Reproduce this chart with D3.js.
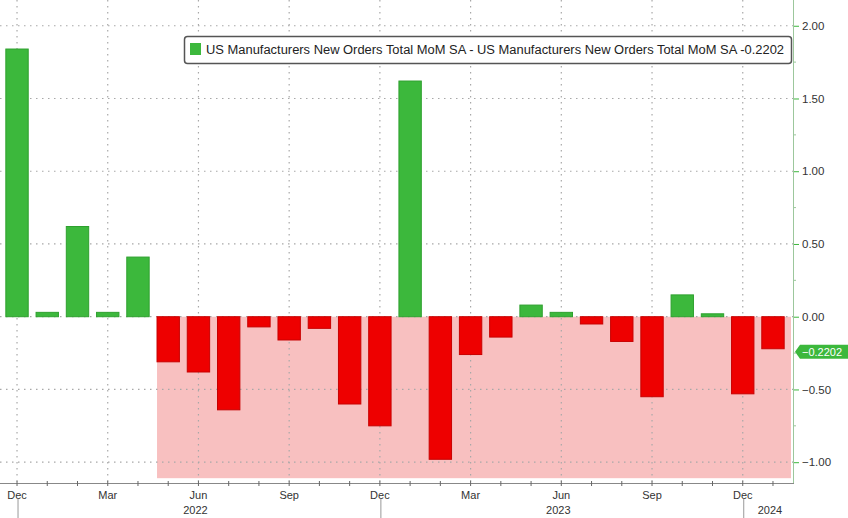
<!DOCTYPE html>
<html><head><meta charset="utf-8">
<script src="https://cdn.jsdelivr.net/npm/d3@7"></script>
<style>body{margin:0;background:#fff}svg{display:block}</style>
</head><body>
<script>
const months = ["2021-12","2022-01","2022-02","2022-03","2022-04","2022-05","2022-06","2022-07","2022-08","2022-09","2022-10","2022-11","2022-12","2023-01","2023-02","2023-03","2023-04","2023-05","2023-06","2023-07","2023-08","2023-09","2023-10","2023-11","2023-12","2024-01"];
const values = [1.84,0.03,0.62,0.03,0.41,-0.31,-0.38,-0.64,-0.07,-0.16,-0.08,-0.60,-0.75,1.62,-0.98,-0.26,-0.14,0.08,0.03,-0.05,-0.17,-0.55,0.15,0.02,-0.53,-0.2202];
const yTicks = [2.0,1.5,1.0,0.5,0.0,-0.5,-1.0];
const monthTicks = [["2021-12","Dec"],["2022-03","Mar"],["2022-06","Jun"],["2022-09","Sep"],["2022-12","Dec"],["2023-03","Mar"],["2023-06","Jun"],["2023-09","Sep"],["2023-12","Dec"]];
const yearLabels = [["2022-06","2022"],["2023-06","2023"],["2024-01","2024"]];
const yearSeparators = ["2021-12","2022-12","2023-12"];
const shadeStart = "2022-05";
const shadeBottom = -1.11;
const lastValue = -0.2202;
const legendText = "US Manufacturers New Orders Total MoM SA - US Manufacturers New Orders Total MoM SA -0.2202";

const W=848,H=518, plotL=0, plotR=793, plotT=0, plotB=483;
const svg=d3.select("body").append("svg").attr("width",W).attr("height",H);
const x=d3.scalePoint().domain(months).range([1.9,788.1]).padding(0.5);
const step=x.step();
const bw=step*0.74;
const y=d3.scaleLinear().domain([-1.143,2.177]).range([plotB,plotT]);
const font="'Liberation Sans', Arial, sans-serif";

// pink shade
svg.append("rect").attr("x",x(shadeStart)-bw/2).attr("y",y(0))
  .attr("width",plotR-2-(x(shadeStart)-bw/2)).attr("height",y(shadeBottom)-y(0))
  .attr("fill","#f8c0c0");

// grid
const g=svg.append("g");
g.selectAll(".hg").data(yTicks).join("line")
  .attr("x1",plotL).attr("x2",plotR).attr("y1",d=>y(d)).attr("y2",d=>y(d))
  .attr("stroke","#a8a8a8").attr("stroke-width",1.2).attr("stroke-dasharray","1.5,4.5");
g.selectAll(".vg").data(monthTicks).join("line")
  .attr("x1",d=>x(d[0])).attr("x2",d=>x(d[0])).attr("y1",plotT).attr("y2",plotB)
  .attr("stroke","#a8a8a8").attr("stroke-width",1.2).attr("stroke-dasharray","1.5,4.5");

// bars
svg.selectAll(".bar").data(values.map((v,i)=>({m:months[i],v})) ).join("rect")
  .attr("x",d=>x(d.m)-bw/2).attr("width",bw)
  .attr("y",d=>y(Math.max(0,d.v))).attr("height",d=>Math.abs(y(d.v)-y(0)))
  .attr("fill",d=>d.v>=0?"#3cb83c":"#ee0000")
  .attr("stroke",d=>d.v>=0?"#2ea02e":"#c80000").attr("stroke-width",1);

// right axis
svg.append("line").attr("x1",plotR+0.5).attr("x2",plotR+0.5).attr("y1",0).attr("y2",plotB)
  .attr("stroke","#9cc79c").attr("stroke-width",1);
const ra=d3.axisRight(y).tickValues(yTicks).tickSize(5).tickFormat(d3.format(".2f"));
const rag=svg.append("g").attr("transform",`translate(${plotR+1},0)`).call(ra);
rag.select(".domain").remove();
rag.selectAll(".tick line").attr("stroke","#3cb83c");
rag.selectAll(".tick text").attr("font-family",font).attr("font-size",11.5).attr("fill","#333").attr("x",8);
const minor=d3.range(-1.0,2.01,0.25).filter(v=>Math.abs(v*2-Math.round(v*2))>0.01);
svg.selectAll(".mn").data(minor).join("line")
  .attr("x1",plotR+1).attr("x2",plotR+3).attr("y1",d=>y(d)).attr("y2",d=>y(d)).attr("stroke","#9cc79c");

// current value tag
const tg=svg.append("g").attr("transform",`translate(${plotR+2},${y(lastValue)+3})`);
tg.append("path").attr("d","M0,0 L5,-7 H53 V7 H5 Z").attr("fill","#3cb83c");
tg.append("text").attr("x",7).attr("y",4).attr("font-family",font).attr("font-size",11)
  .attr("fill","#fff").text(d3.format(".4f")(lastValue));

// bottom axis
svg.append("line").attr("x1",0).attr("x2",plotR+1).attr("y1",plotB+0.5).attr("y2",plotB+0.5)
  .attr("stroke","#888");
svg.selectAll(".mt").data(months).join("line")
  .attr("x1",d=>x(d)).attr("x2",d=>x(d)).attr("y1",plotB-2).attr("y2",plotB+3).attr("stroke","#666");
svg.selectAll(".xl").data(monthTicks).join("text")
  .attr("x",d=>x(d[0])).attr("y",plotB+16).attr("text-anchor","middle")
  .attr("font-family",font).attr("font-size",11).attr("fill","#333").text(d=>d[1]);
svg.selectAll(".yl").data(yearLabels).join("text")
  .attr("x",d=>x(d[0])-3).attr("y",plotB+31).attr("text-anchor","middle")
  .attr("font-family",font).attr("font-size",11).attr("fill","#333").text(d=>d[1]);
svg.selectAll(".ys").data(yearSeparators).join("line")
  .attr("x1",d=>x(d)+1).attr("x2",d=>x(d)+1).attr("y1",plotB+16).attr("y2",H)
  .attr("stroke","#999");

// legend
const lg=svg.append("g");
lg.append("rect").attr("x",184.5).attr("y",36.5).attr("width",607).attr("height",27).attr("rx",3)
  .attr("fill","#fff").attr("stroke","#555").attr("stroke-width",1.5);
lg.append("rect").attr("x",190).attr("y",43).attr("width",11).attr("height",12).attr("fill","#3cb83c");
lg.append("text").attr("x",206).attr("y",54).attr("font-family",font).attr("font-size",12)
  .attr("fill","#222").attr("textLength",578).attr("lengthAdjust","spacingAndGlyphs").text(legendText);
</script>
</body></html>
